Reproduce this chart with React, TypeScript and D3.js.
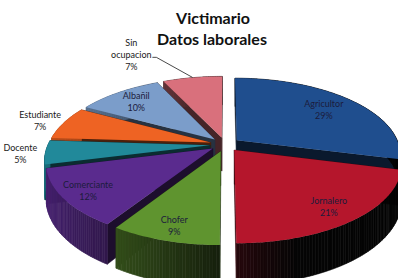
import React from 'react'
import * as d3 from 'd3'

// slices start at 12 o'clock and run clockwise, same as the source chart
const categories = ['Agricultor', 'Jornalero', 'Chofer', 'Comerciante', 'Docente', 'Estudiante', 'Albañil', 'Sin ocupacion']
const values = [29, 21, 9, 12, 5, 7, 10, 7]
const colors = ['#1F4E8E', '#B5162C', '#5F942F', '#5A2B8E', '#21899A', '#EE6323', '#7B9DCA', '#D9707C']
const labelLines = [['Agricultor'], ['Jornalero'], ['Chofer'], ['Comerciante'], ['Docente'], ['Estudiante'], ['Albañil'], ['Sin', 'ocupacion']]
const outside = [false, false, false, false, true, true, false, true]
const labelR = [0.75, 0.82, 0.85, 0.85, 1.15, 1.17, 0.8, 1.0]

const W = 398
const H_SVG = 278
const R = 162        // pie radius
const F = 915        // perspective distance
const K = 0.46       // sin(tilt)
const C = 0.888      // cos(tilt)
const DEPTH = 38     // wall height
const EXPLODE = 15
const CX = 225
const CY = 144.5
const FONT = 'Lato, "Open Sans", sans-serif'

const proj = (u: number, v: number, h: number): [number, number] => {
  const s = F / (F + v)
  return [CX + u * s, CY - v * K * s + h * C * s]
}

export default function App() {
  const total = d3.sum(values)
  const pie = d3.pie<number>().sort(null).startAngle(0).endAngle(2 * Math.PI)
  const arcs = pie(values)
  const line = d3.line()

  const slices = arcs.map((a, i) => {
    const m = (a.startAngle + a.endAngle) / 2
    const eu = EXPLODE * Math.sin(m), ev = EXPLODE * Math.cos(m)
    const pt = (phi: number, r: number, h: number) => proj(eu + r * Math.sin(phi), ev + r * Math.cos(phi), h)
    const n = Math.max(4, Math.ceil((a.endAngle - a.startAngle) / (Math.PI / 180)))
    const phis = d3.range(n + 1).map(k => a.startAngle + (a.endAngle - a.startAngle) * k / n)
    const top = [pt(0, 0, 0), ...phis.map(p => pt(p, R, 0))]
    const radial = (phi: number) => [pt(0, 0, 0), pt(phi, R, 0), pt(phi, R, DEPTH), pt(0, 0, DEPTH)] as [number, number][]
    const base = d3.color(colors[i])!.darker(0.6).formatHex()
    const shade = d3.interpolateRgb('#050505', base)
    const outer = phis.slice(0, -1).map((p, k) => {
      const q = phis[k + 1]
      const mid = (p + q) / 2
      const t = Math.max(0, Math.min(1, (-Math.sin(mid) + 0.3) / 1.3))
      return {
        d: line([pt(p, R, 0), pt(q, R, 0), pt(q, R, DEPTH), pt(p, R, DEPTH)])! + 'Z',
        fill: shade(t),
      }
    })
    const lp = pt(m, R * labelR[i], 0)
    return {
      i, m, depth: Math.cos(m), top, outer,
      walls: [radial(a.startAngle), radial(a.endAngle)],
      lp, edge: pt(m, R + 1, 0),
      pct: Math.round(values[i] / total * 100) + '%',
    }
  })

  const order = [...slices].sort((a, b) => b.depth - a.depth)
  const wallColor = (i: number) => d3.color(colors[i])!.darker(3.2).formatHex()

  // the "Sin ocupacion" label sits up-left of its slice, with a leader line
  const sinPos = (e: [number, number]): [number, number] => [e[0] - 61, e[1] - 23]

  return (
    <svg width={W} height={H_SVG} style={{ position: 'fixed', left: 0, top: 0, background: '#fff' }}>
      <rect width={W} height={H_SVG} fill="#fff" />
      {order.map(s => (
        <g key={s.i}>
          {s.walls.map((w, k) => (
            <path key={k} d={line(w)! + 'Z'} fill={wallColor(s.i)} stroke={wallColor(s.i)} strokeWidth={0.5} />
          ))}
          {s.outer.map((o, k) => (
            <path key={'o' + k} d={o.d} fill={o.fill} stroke={o.fill} strokeWidth={0.6} />
          ))}
          <path d={line(s.top)! + 'Z'} fill={colors[s.i]} />
        </g>
      ))}

      {slices.map(s => {
        const lines = [...labelLines[s.i], s.pct]
        let [x, y] = s.lp
        if (s.i === 7) [x, y] = sinPos(s.edge)
        const fill = outside[s.i] ? '#1a1a1a' : '#1c1c3c'
        return (
          <text key={s.i} x={x} y={y - (lines.length - 1) * 6 + 4} fontFamily={FONT} fontSize={9}
            fill={fill} textAnchor="middle">
            {lines.map((t, k) => (
              <tspan key={k} x={x} dy={k === 0 ? 0 : 12}>{t}</tspan>
            ))}
          </text>
        )
      })}

      {(() => {
        const s = slices[7]
        const [x, y] = sinPos(s.edge)
        const pts: [number, number][] = [[x + 21, y + 3], [x + 25, y + 3], s.edge]
        return <path d={line(pts)!} fill="none" stroke="#1a1a1a" strokeWidth={0.8} />
      })()}

      <text x={213} y={24} textAnchor="middle" fontFamily={FONT} fontWeight={700} fontSize={16} fill="#111">Victimario</text>
      <text x={212} y={45} textAnchor="middle" fontFamily={FONT} fontWeight={700} fontSize={16} fill="#111">Datos laborales</text>
    </svg>
  )
}
